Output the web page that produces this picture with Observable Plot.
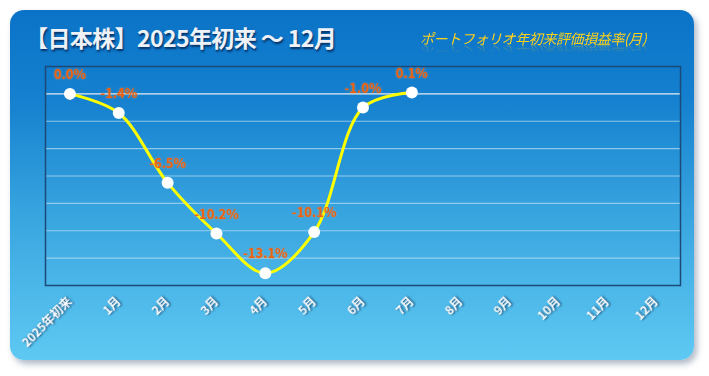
<!DOCTYPE html>
<html>
<head>
<meta charset="utf-8">
<script src="https://cdn.jsdelivr.net/npm/d3@7"></script>
<script src="https://cdn.jsdelivr.net/npm/@observablehq/plot@0.6"></script>
<style>
  html, body { margin: 0; padding: 0; background: #ffffff; }
  #page { position: relative; width: 709px; height: 376px; overflow: hidden; font-family: "Noto Sans CJK JP", "Noto Sans", sans-serif; }
  #card { position: absolute; left: 10px; top: 10px; width: 684px; height: 350px; border-radius: 14px;
    background: linear-gradient(to bottom, #0b73c7 0%, #1480cf 25%, #3aa6e0 60%, #5ec9f2 100%);
    box-shadow: 3px 4px 6px rgba(80, 100, 130, 0.45); }
  #title { position: absolute; left: 25px; top: 20px; font-size: 23px; font-weight: bold; color: #eef2f7;
    letter-spacing: -0.6px; text-shadow: 1px 2px 2px rgba(0, 20, 60, 0.7); white-space: nowrap; }
  #subtitle { position: absolute; left: 420px; top: 28px; font-size: 14px; font-style: italic; color: #ffd21a;
    white-space: nowrap; letter-spacing: -0.4px;
    -webkit-box-reflect: below -6px linear-gradient(transparent 45%, rgba(255,255,255,0.45)); }
  #chart { position: absolute; left: 0; top: 50px; }
  #chart g[aria-label="x-axis tick label"] text { filter: drop-shadow(1px 1px 1px rgba(0, 30, 70, 0.75)); }
  #chart g[aria-label="text"] text { filter: drop-shadow(0px 0px 1px rgba(255, 150, 70, 0.7)); }
</style>
</head>
<body>
<div id="page">
  <div id="card"></div>
  <div id="title">【日本株】2025年初来 ～ 12月</div>
  <div id="subtitle">ポートフォリオ年初来評価損益率(月)</div>
  <div id="chart"></div>
</div>
<script>
const categories = ["2025年初来", "1月", "2月", "3月", "4月", "5月", "6月", "7月", "8月", "9月", "10月", "11月", "12月"];
const months = ["2025年初来", "1月", "2月", "3月", "4月", "5月", "6月", "7月"];
const values = [0.0, -1.4, -6.5, -10.2, -13.1, -10.1, -1.0, 0.1];
const gridTicks = [0, -2, -4, -6, -8, -10, -12];
const yDomain = [-14, 2];

const data = months.map((m, i) => ({ month: m, value: values[i], label: values[i].toFixed(1) + "%" }));

const chart = Plot.plot({
  width: 709,
  height: 320,
  marginLeft: 45,
  marginRight: 29,
  marginTop: 16,
  marginBottom: 85,
  style: { background: "transparent", fontFamily: "'Noto Sans CJK JP', 'Noto Sans', sans-serif", overflow: "visible" },
  x: { type: "point", domain: categories, padding: 0.5, round: false, axis: null },
  y: { domain: yDomain, axis: null },
  marks: [
    Plot.ruleY(gridTicks, { stroke: d => d === 0 ? "#e6edf4" : "#a9d6f3", strokeOpacity: d => d === 0 ? 1 : 0.8, strokeWidth: 1.2 }),
    Plot.frame({ stroke: "#1c4a78", strokeWidth: 1.5 }),
    Plot.line(data, { x: "month", y: "value", stroke: "#ffff00", strokeWidth: 3, curve: "catmull-rom" }),
    Plot.dot(data, { x: "month", y: "value", r: 6, fill: "#ffffff", stroke: "none" }),
    Plot.text(data, { x: "month", y: "value", text: "label", dy: -19, fill: "#f0600c", fontSize: 13, fontWeight: "bold" }),
    Plot.axisX({ domain: categories, label: null, tickRotate: -45, tickSize: 0, tickPadding: 14, fill: "#ffffff", fontSize: 12, fontWeight: "bold", textAnchor: "end" })
  ]
});
document.getElementById("chart").appendChild(chart);
</script>
</body>
</html>
